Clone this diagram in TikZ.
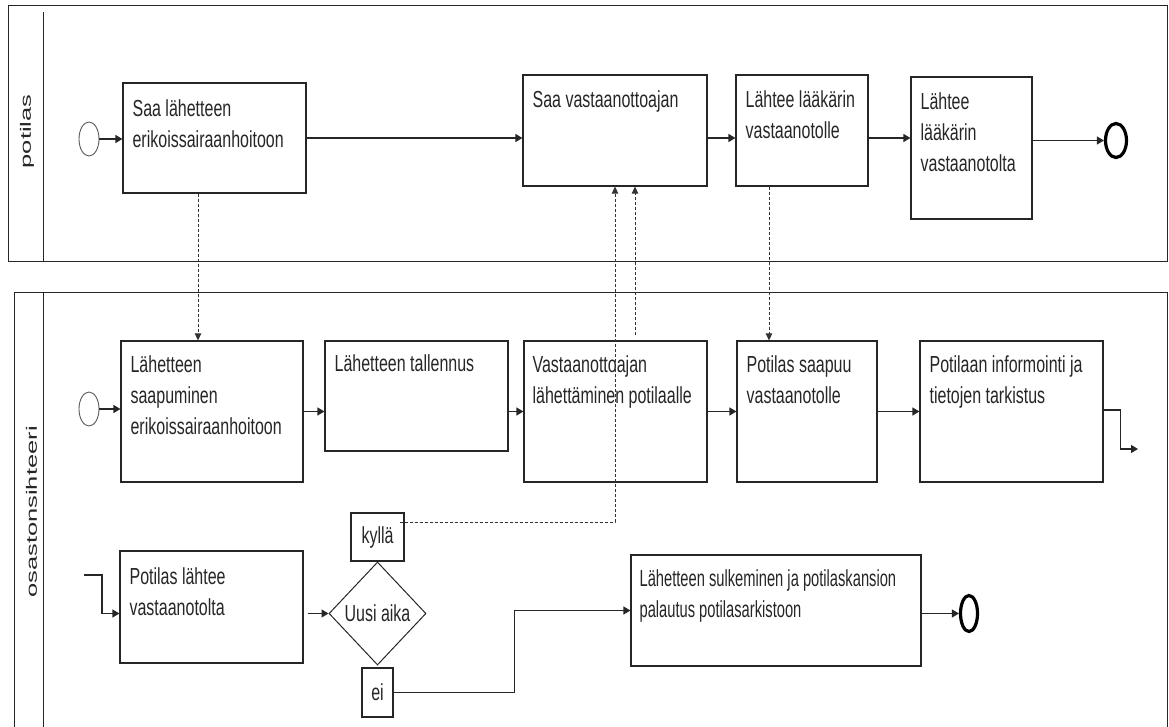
\documentclass[tikz,border=0pt]{standalone}
\usepackage{fontspec}
\setmainfont{Liberation Sans}
\usepackage{graphicx}
\usetikzlibrary{arrows.meta,shapes.geometric,fit,calc}
\newcommand{\bx}[1]{\scalebox{1}[1.45]{\fontsize{16}{21.4}\selectfont\begin{tabular}[t]{@{}l@{}}#1\end{tabular}}}
\newcommand{\bxs}[1]{\scalebox{1}[1.58]{\fontsize{14.7}{19.6}\selectfont\begin{tabular}[t]{@{}l@{}}#1\end{tabular}}}
\newcommand{\one}[1]{\scalebox{1}[1.45]{\fontsize{16}{19}\selectfont #1}}
\newcommand{\lane}[1]{\scalebox{1.7}[1]{\fontsize{15}{18}\selectfont #1}}
\begin{document}
\begin{tikzpicture}[x=1pt,y=-1pt,
  pool/.style={draw=black!85, line width=1pt},
  task/.style={draw=black!85, line width=1.2pt, inner sep=0pt},
  txt/.style={anchor=base west, inner sep=0pt, text=black!85},
  startev/.style={ellipse, draw=black!65, line width=0.9pt, minimum width=20pt, minimum height=34pt, inner sep=0pt},
  endev/.style={ellipse, draw=black, line width=3.2pt, inner sep=0pt},
  flow/.style={draw=black!85, line width=1.3pt, -{Triangle[length=7pt,width=8pt]}},
  msg/.style={draw=black!80, line width=0.8pt, dash pattern=on 3pt off 2pt, -{Triangle[length=7pt,width=6.5pt]}}
]
\useasboundingbox (0,0) rectangle (1169,727);
\clip (0,0) rectangle (1169,727);

% pools
\draw[pool] (8,6) rectangle (1167,262);
\draw[pool] (43,12) -- (43,262);
\draw[pool] (14,745) -- (14,292) -- (1167,292) -- (1167,745);
\draw[pool] (43,292) -- (43,745);
\node[rotate=90, inner sep=0pt, text=black!85] (lp) at (27,131.5) {\lane{potilas}};
\node[rotate=90, inner sep=0pt, text=black!85] (lo) at (31.5,512) {\lane{osastonsihteeri}};

% lane 1
\node[startev] (s1) at (89,139) {};
\node[task, fit={(123,83) (306,193)}] (b1) {};
\node[txt] (b1t) at ([shift={(10,34)}]b1.north west) {\bx{Saa lähetteen\\erikoissairaanhoitoon}};
\node[task, fit={(523,75) (707,186)}] (b2) {};
\node[txt] (b2t) at ([shift={(10,33)}]b2.north west) {\bx{Saa vastaanottoajan}};
\node[task, fit={(736,75) (868,186)}] (b3) {};
\node[txt] (b3t) at ([shift={(10,33)}]b3.north west) {\bx{Lähtee lääkärin\\vastaanotolle}};
\node[task, fit={(911,77) (1032,219)}] (b4) {};
\node[txt] (b4t) at ([shift={(10,33)}]b4.north west) {\bx{Lähtee\\lääkärin\\vastaanotolta}};
\node[endev, minimum width=21pt, minimum height=34pt] (e1) at (1116,140.5) {};

% lane 2
\node[startev] (s2) at (89,409) {};
\node[task, fit={(121,341) (303,482)}] (c1) {};
\node[txt] (c1t) at ([shift={(10,32)}]c1.north west) {\bx{Lähetteen\\saapuminen\\erikoissairaanhoitoon}};
\node[task, fit={(325,341) (508,451)}] (c2) {};
\node[txt] (c2t) at ([shift={(10,31)}]c2.north west) {\bx{Lähetteen tallennus}};
\node[task, fit={(524,341) (707,482)}] (c3) {};
\node[txt] (c3t) at ([shift={(9,32)}]c3.north west) {\bx{Vastaanottoajan\\lähettäminen potilaalle}};
\node[task, fit={(737,341) (877,482)}] (c4) {};
\node[txt] (c4t) at ([shift={(10,32)}]c4.north west) {\bx{Potilas saapuu\\vastaanotolle}};
\node[task, fit={(920,341) (1103,482)}] (c5) {};
\node[txt] (c5t) at ([shift={(10,32)}]c5.north west) {\bx{Potilaan informointi ja\\tietojen tarkistus}};
\coordinate (c5o) at (1138,449);

% bottom row
\coordinate (d1i) at (84,575);
\node[task, fit={(120,551) (303,663)}] (d1) {};
\node[txt] (d1t) at ([shift={(10,34)}]d1.north west) {\bx{Potilas lähtee\\vastaanotolta}};
\node[diamond, draw=black!85, line width=1pt, minimum width=97pt, minimum height=103pt, inner sep=0pt, text=black!85] (dia) at (377.5,613.5) {\one{Uusi aika}};
\node[task, minimum width=53pt, minimum height=48pt, text=black!85] (kylla) at (377.5,537) {\one{kyllä}};
\node[task, minimum width=31pt, minimum height=49pt, text=black!85] (ei) at (377.5,692.5) {\one{ei}};
\node[task, fit={(631,555) (921,666)}] (f1) {};
\node[txt] (f1t) at ([shift={(9,32)}]f1.north west) {\bxs{Lähetteen sulkeminen ja potilaskansion\\palautus potilasarkistoon}};
\node[endev, minimum width=17pt, minimum height=36pt] (e2) at (969,613.5) {};

% sequence flows lane 1
\draw[flow] (s1.east) -- (s1.east -| b1.west);
\draw[flow] (b1.east) -- (b1.east -| b2.west);
\draw[flow] (b2.east |- b1.east) -- (b3.west |- b1.east);
\draw[flow] (b3.east |- b1.east) -- (b4.west |- b1.east);
\draw[flow] (b4.east |- e1.west) -- (e1.west);

% sequence flows lane 2
\draw[flow] (s2.east) -- (s2.east -| c1.west);
\draw[flow] (c1.east) -- (c1.east -| c2.west);
\draw[flow] (c2.east |- c1.east) -- (c3.west);
\draw[flow] (c3.east) -- (c4.west);
\draw[flow] (c4.east) -- (c5.west);
\draw[flow] ([yshift=1.5pt]c5.east) -- ++(17,0) |- (c5o);

% bottom flows
\draw[flow] (d1i) -- ++(18,0) |- (d1.west |- dia.west);
\draw[flow, shorten <=4pt] (d1.east |- dia.west) -- (dia.west);
\draw[flow] (ei.east) -- ++(121,0) |- (f1.west);
\draw[flow] (f1.east |- e2.west) -- (e2.west);

% message flows
\draw[msg] ([xshift=-16.5pt]b1.south) -- ([xshift=-16.5pt]b1.south |- c1.north);
\draw[msg] ([xshift=19.5pt,yshift=5pt]c3.north) -- ([xshift=19.5pt]c3.north |- b2.south);
\draw[msg] ([xshift=-5pt,yshift=15pt]kylla.east) -- ([yshift=15pt]kylla.east -| b2.south) -- (b2.south);
\draw[msg] ([xshift=-33pt]b3.south) -- ([xshift=-33pt]b3.south |- c4.north);
\end{tikzpicture}
\end{document}
